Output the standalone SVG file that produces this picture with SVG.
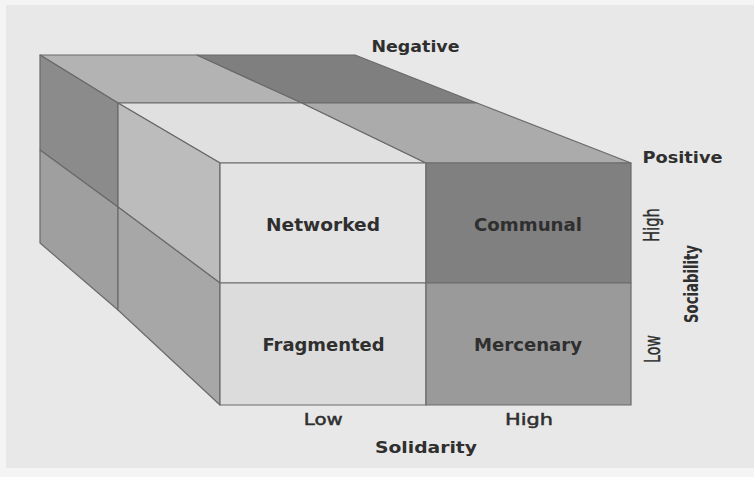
<svg xmlns="http://www.w3.org/2000/svg" width="754" height="477" viewBox="0 0 754 477">
  <style>
    .face { stroke: #6a6a6a; stroke-width: 1.2; stroke-linejoin: round; }
    .lbl { font-family: "DejaVu Sans", "Liberation Sans", sans-serif; fill: #2f2f2f; text-anchor: middle; }
    .b { font-weight: bold; }
    .med { stroke: #2f2f2f; stroke-width: 0.45; }
    .cell { font-size: 17.5px; font-weight: bold; }
  </style>
  <rect x="0" y="0" width="754" height="477" fill="#f4f4f4"/>
  <rect x="6" y="5" width="748" height="463" fill="#e8e8e8"/>

  <g id="cube">
    <!-- top face, back layer -->
    <polygon id="top-back-left" class="face" fill="#b3b3b3" points="40,55 197,55 302,103 118,103"/>
    <polygon id="top-back-right" class="face" fill="#7f7f7f" points="197,55 355,55 477,103 302,103"/>
    <!-- top face, front layer -->
    <polygon id="top-front-left" class="face" fill="#e0e0e0" points="118,103 302,103 426,163 220,163"/>
    <polygon id="top-front-right" class="face" fill="#ababab" points="302,103 477,103 631,163 426,163"/>
    <!-- left face, back layer -->
    <polygon id="left-back-upper" class="face" fill="#8b8b8b" points="40,55 118,103 118,207 40,150"/>
    <polygon id="left-back-lower" class="face" fill="#9f9f9f" points="40,150 118,207 118,310 40,243"/>
    <!-- left face, front layer -->
    <polygon id="left-front-upper" class="face" fill="#bcbcbc" points="118,103 220,163 220,283 118,207"/>
    <polygon id="left-front-lower" class="face" fill="#a7a7a7" points="118,207 220,283 220,405 118,310"/>
  </g>

  <g id="networked">
    <rect class="face" x="220" y="163" width="206" height="120" fill="#e3e3e3"/>
    <text class="lbl cell" x="323" y="231" textLength="114" lengthAdjust="spacingAndGlyphs">Networked</text>
  </g>
  <g id="communal">
    <rect class="face" x="426" y="163" width="205" height="120" fill="#808080"/>
    <text class="lbl cell" x="528" y="231" textLength="108" lengthAdjust="spacingAndGlyphs">Communal</text>
  </g>
  <g id="fragmented">
    <rect class="face" x="220" y="283" width="206" height="122" fill="#dcdcdc"/>
    <text class="lbl cell" x="323.5" y="351" textLength="122" lengthAdjust="spacingAndGlyphs">Fragmented</text>
  </g>
  <g id="mercenary">
    <rect class="face" x="426" y="283" width="205" height="122" fill="#9a9a9a"/>
    <text class="lbl cell" x="528" y="351" textLength="108" lengthAdjust="spacingAndGlyphs">Mercenary</text>
  </g>

  <g id="connectors"></g>

  <g id="axis-labels">
    <text class="lbl b" x="415.5" y="52" font-size="15" textLength="88" lengthAdjust="spacingAndGlyphs">Negative</text>
    <text class="lbl b" x="682.5" y="163" font-size="16" textLength="80" lengthAdjust="spacingAndGlyphs">Positive</text>
    <text class="lbl med" x="323.3" y="425" font-size="15" textLength="39" lengthAdjust="spacingAndGlyphs">Low</text>
    <text class="lbl med" x="529" y="425" font-size="15" textLength="48" lengthAdjust="spacingAndGlyphs">High</text>
    <text class="lbl b" x="426" y="453" font-size="16" textLength="102" lengthAdjust="spacingAndGlyphs">Solidarity</text>
    <text class="lbl med" transform="translate(659,225) rotate(-90)" x="0" y="0" font-size="21" textLength="34" lengthAdjust="spacingAndGlyphs">High</text>
    <text class="lbl med" transform="translate(659.5,349) rotate(-90)" x="0" y="0" font-size="21" textLength="28" lengthAdjust="spacingAndGlyphs">Low</text>
    <text class="lbl b" transform="translate(698,284) rotate(-90)" x="0" y="0" font-size="20" textLength="78" lengthAdjust="spacingAndGlyphs">Sociability</text>
  </g>
</svg>
